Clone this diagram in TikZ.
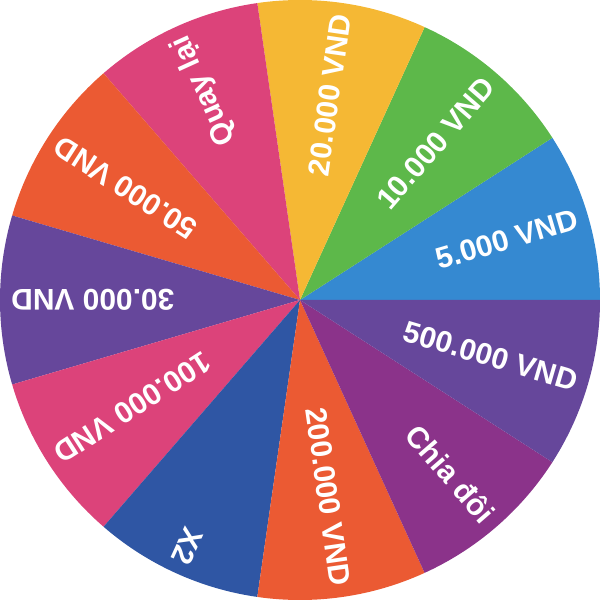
\documentclass[tikz,border=0pt]{standalone}
\usepackage{fontspec}
\setmainfont{Liberation Sans}
\definecolor{wheelblue}{HTML}{3589D1}
\definecolor{wheelgreen}{HTML}{5DB84A}
\definecolor{wheelyellow}{HTML}{F5B834}
\definecolor{wheelpink}{HTML}{DC437A}
\definecolor{wheelorange}{HTML}{EB5A33}
\definecolor{wheelpurple}{HTML}{66479B}
\definecolor{wheelnavy}{HTML}{2F56A4}
\definecolor{wheelmagenta}{HTML}{8B338A}
\tikzset{prize/.style={text=white,font=\bfseries\fontsize{14.2}{17}\selectfont,anchor=east,inner sep=0pt}}
\begin{document}
\begin{tikzpicture}[line join=round]
  \useasboundingbox (-5,-5) rectangle (5,5);
  % Eleven equal sectors, counter-clockwise from the right.
  \foreach \col/\lab [count=\i from 0] in {wheelblue/5.000 VND,wheelgreen/10.000 VND,
      wheelyellow/20.000 VND,wheelpink/Quay lại,wheelorange/50.000 VND,
      wheelpurple/30.000 VND,wheelpink/100.000 VND,wheelnavy/X2,
      wheelorange/200.000 VND,wheelmagenta/Chia đôi,wheelpurple/500.000 VND} {
    \pgfmathsetmacro\a{\i*360/11}
    \pgfmathsetmacro\b{(\i+1)*360/11}
    \pgfmathsetmacro\m{(\i+0.5)*360/11}
    \fill[\col] (0,0) -- (\a:5) arc[start angle=\a,end angle=\b,radius=5] -- cycle;
    % Label runs outward along the middle of its sector.
    \node[prize,rotate=\m] (lab\i) at (\m:4.82) {\lab};
  }
\end{tikzpicture}
\end{document}
